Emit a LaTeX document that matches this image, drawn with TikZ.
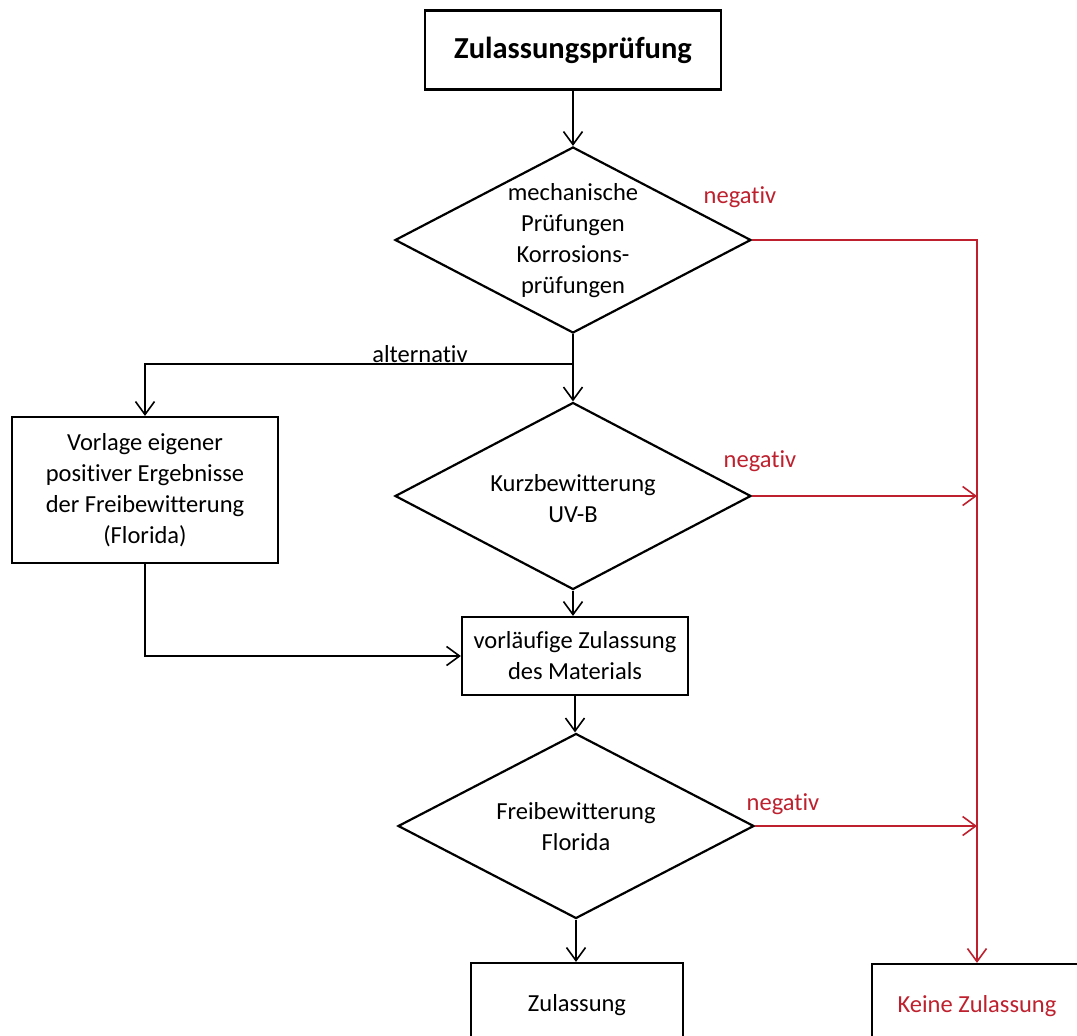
\documentclass[tikz,border=0pt]{standalone}
\usepackage{fontspec}
\setmainfont{Carlito}[Ligatures=NoCommon]
\usetikzlibrary{shapes.geometric,arrows.meta}
\definecolor{negred}{RGB}{190,32,46}
\begin{document}
\begin{tikzpicture}[x=1pt,y=-1pt,
  box/.style={draw,line width=2.2pt,inner sep=0pt,align=center,font=\fontsize{24.5}{31}\selectfont},
  dia/.style={draw,diamond,line width=2.2pt,inner sep=0pt},
  txt/.style={align=center,font=\fontsize{24.5}{31}\selectfont},
  arr/.style={line width=1.6pt,-{Straight Barb[length=13pt,width=19pt,line width=1.6pt]}},
  neg/.style={arr,draw=negred},
  lbl/.style={inner sep=0pt,font=\fontsize{24.5}{28}\selectfont}]
\useasboundingbox (0,0) rectangle (1077,1036);
\clip (0,0) rectangle (1077,1036);

\node[box,minimum width=296pt,minimum height=79pt,font=\bfseries\fontsize{30.5}{35}\selectfont] (title) at (573,50) {Zulassungsprüfung};

\node[dia,minimum width=356pt,minimum height=186pt] (d1) at (573,240) {};
\node[txt] (d1t) at (573,241) {mechanische\\Prüfungen\\Korrosions-\\prüfungen};

\node[box,minimum width=266pt,minimum height=146pt] (alt) at (145,490) {Vorlage eigener\\positiver Ergebnisse\\der Freibewitterung\\(Florida)};

\node[dia,minimum width=356pt,minimum height=187pt] (d2) at (573,496) {};
\node[txt] (d2t) at (573,499) {Kurzbewitterung\\UV-B};

\node[box,minimum width=226pt,minimum height=78pt] (vorl) at (575,656) {vorläufige Zulassung\\des Materials};

\node[dia,minimum width=356pt,minimum height=185pt] (d3) at (576,826) {};
\node[txt] (d3t) at (576,827) {Freibewitterung\\Florida};

\node[box,minimum width=212pt,minimum height=84pt] (zul) at (577,1005) {Zulassung};
\node[box,minimum width=210pt,minimum height=84pt,text=negred] (keine) at (977,1006) {Keine Zulassung};

% black connectors
\draw[arr] (title.south) -- (title.south |- d1.north);
\coordinate (branch) at (d1.south |- 0,364);
\draw[arr] (d1.south) -- (d2.north);
\draw[arr] (branch) -| (alt.north);
\draw[arr] (d2.south) -- (d2.south |- vorl.north);
\draw[arr] (alt.south) |- (vorl.west);
\draw[arr] (vorl.south) -- (vorl.south |- d3.north);
\draw[arr] (d3.south) -- (d3.south |- zul.north);

% red connectors
\draw[neg] (d1.east) -| (keine.north);
\coordinate (r2) at (keine.north |- d2.east);
\coordinate (r3) at (keine.north |- d3.east);
\draw[neg] (d2.east) -- (r2);
\draw[neg] (d3.east) -- (r3);

% labels
\node[lbl,text=negred] (n1) at (740,197) {negativ};
\node[lbl,text=negred] (n2) at (760,461) {negativ};
\node[lbl,text=negred] (n3) at (783,804) {negativ};
\node[lbl] (altl) at (420,354) {alternativ};
\end{tikzpicture}
\end{document}
